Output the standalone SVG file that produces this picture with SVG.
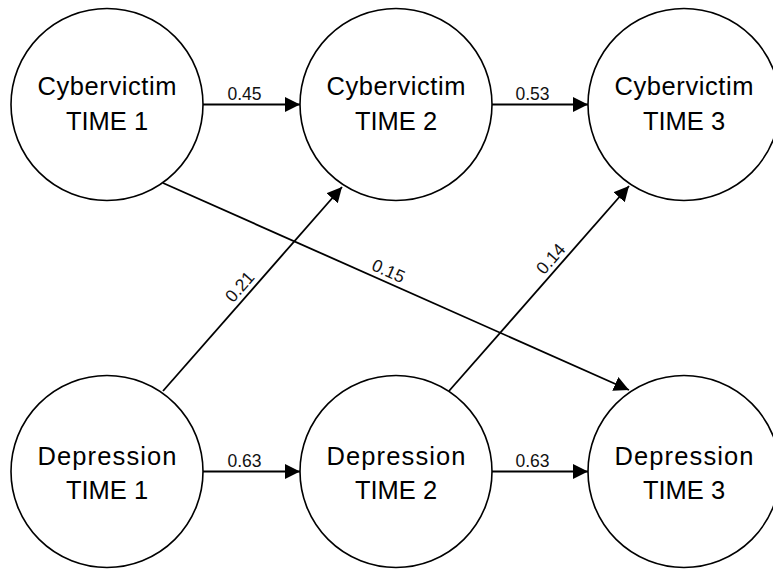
<svg xmlns="http://www.w3.org/2000/svg" width="773" height="572" viewBox="0 0 773 572">
  <defs>
    <marker id="arrow" markerUnits="userSpaceOnUse" markerWidth="16" markerHeight="16" refX="15" refY="7.5" orient="auto" viewBox="0 0 16 15">
      <path d="M0,0 L15,7.5 L0,15 z" fill="#000"/>
    </marker>
    <style>
      .node circle { fill: #fff; stroke: #000; stroke-width: 1.6; }
      .node text { font-family: "Liberation Sans", Arial, sans-serif; font-size: 25.5px; fill: #000; text-anchor: middle; }
      .edge line { stroke: #000; stroke-width: 1.8; marker-end: url(#arrow); }
      .lbl { font-family: "Liberation Sans", Arial, sans-serif; font-size: 17.5px; fill: #111; text-anchor: middle; }
    </style>
  </defs>
  <rect width="773" height="572" fill="#fff"/>

  <g id="connectors" class="edge">
    <line x1="203" y1="104.5" x2="300" y2="104.5"/>
    <line x1="492" y1="104.5" x2="588" y2="104.5"/>
    <line x1="203" y1="471.5" x2="300" y2="471.5"/>
    <line x1="492" y1="471.5" x2="588" y2="471.5"/>
    <line x1="163" y1="183" x2="629" y2="390"/>
    <line x1="163" y1="391" x2="342" y2="187"/>
    <line x1="449" y1="391" x2="629" y2="186"/>
    <text class="lbl" x="244.5" y="100">0.45</text>
    <text class="lbl" x="532.5" y="100">0.53</text>
    <text class="lbl" x="244.5" y="467">0.63</text>
    <text class="lbl" x="532.5" y="467">0.63</text>
    <text class="lbl" transform="translate(384,281) rotate(23.9)" y="-5">0.15</text>
    <text class="lbl" transform="translate(248,294) rotate(-48.7)" y="-5">0.21</text>
    <text class="lbl" transform="translate(559,266) rotate(-48.7)" y="-5">0.14</text>
  </g>

  <g id="cyber1" class="node">
    <circle cx="107" cy="104.5" r="96"/>
    <text x="107" y="95" textLength="139" lengthAdjust="spacing">Cybervictim</text>
    <text x="107" y="130">TIME 1</text>
  </g>
  <g id="cyber2" class="node">
    <circle cx="396" cy="104.5" r="96"/>
    <text x="396" y="95" textLength="139" lengthAdjust="spacing">Cybervictim</text>
    <text x="396" y="130">TIME 2</text>
  </g>
  <g id="cyber3" class="node">
    <circle cx="684" cy="104.5" r="96"/>
    <text x="684" y="95" textLength="139" lengthAdjust="spacing">Cybervictim</text>
    <text x="684" y="130">TIME 3</text>
  </g>
  <g id="dep1" class="node">
    <circle cx="107" cy="471.5" r="96"/>
    <text x="107" y="465" textLength="139" lengthAdjust="spacing">Depression</text>
    <text x="107" y="499">TIME 1</text>
  </g>
  <g id="dep2" class="node">
    <circle cx="396" cy="471.5" r="96"/>
    <text x="396" y="465" textLength="139" lengthAdjust="spacing">Depression</text>
    <text x="396" y="499">TIME 2</text>
  </g>
  <g id="dep3" class="node">
    <circle cx="684" cy="471.5" r="96"/>
    <text x="684" y="465" textLength="139" lengthAdjust="spacing">Depression</text>
    <text x="684" y="499">TIME 3</text>
  </g>
</svg>
